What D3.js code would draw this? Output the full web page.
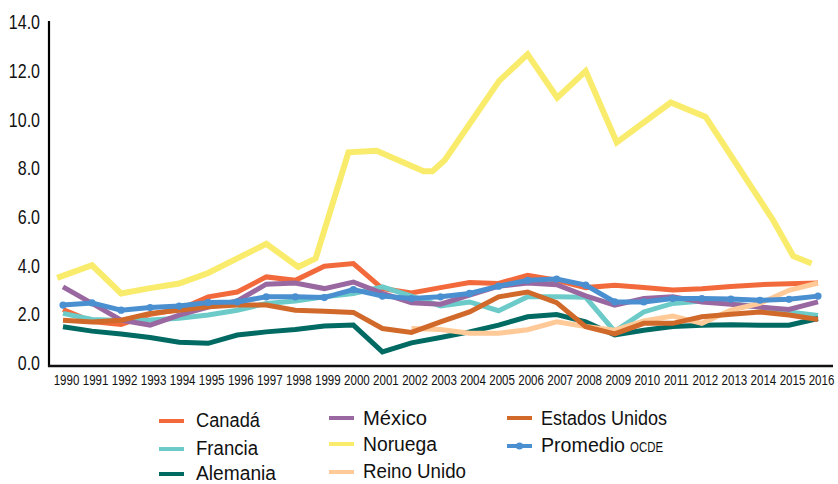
<!DOCTYPE html>
<html>
<head>
<meta charset="utf-8">
<script src="https://cdn.jsdelivr.net/npm/d3@7"></script>
<style>
  html, body { margin: 0; padding: 0; background: #fff; }
  svg { display: block; }
  .cond { font-family: "Liberation Sans", Arial, sans-serif; }
</style>
</head>
<body>
<svg id="chart" width="838" height="484"></svg>
<script>
// ---- data ----
const years = d3.range(1990, 2017);
const yTicks = [0, 2, 4, 6, 8, 10, 12, 14];

const canada   = [2.2,1.7,1.58,2.0,2.2,2.72,2.92,3.54,3.4,3.98,4.09,3.06,2.88,3.1,3.31,3.27,3.61,3.4,3.1,3.2,3.1,3.0,3.05,3.15,3.22,3.26,3.29];
const francia  = [2.04,1.79,1.75,1.77,1.84,1.97,2.17,2.45,2.55,2.72,2.86,3.13,2.75,2.35,2.51,2.15,2.72,2.72,2.7,1.3,2.1,2.45,2.55,2.45,2.3,2.1,1.95];
const alemania = [1.49,1.31,1.19,1.05,0.85,0.81,1.15,1.28,1.38,1.52,1.56,0.46,0.83,1.05,1.28,1.56,1.9,1.99,1.69,1.15,1.35,1.5,1.55,1.57,1.55,1.55,1.83];
const mexico   = [3.13,2.45,1.76,1.56,1.97,2.3,2.55,3.24,3.29,3.06,3.33,2.86,2.48,2.42,2.79,3.16,3.29,3.22,2.76,2.38,2.65,2.72,2.51,2.42,2.3,2.2,2.51];
const reinoUnido = [null,null,null,null,null,null,null,null,null,null,null,null,1.42,1.38,1.22,1.22,1.37,1.69,1.5,1.35,1.73,1.93,1.63,2.17,2.45,2.99,3.29];
const estadosUnidos = [1.76,1.69,1.76,2.04,2.17,2.31,2.38,2.38,2.17,2.13,2.08,1.42,1.26,1.69,2.1,2.72,2.92,2.48,1.49,1.2,1.63,1.63,1.9,2.0,2.1,1.97,1.79];
const promedioOCDE = [2.38,2.47,2.17,2.28,2.34,2.49,2.51,2.72,2.72,2.69,3.02,2.75,2.65,2.72,2.86,3.16,3.4,3.45,3.2,2.51,2.51,2.65,2.65,2.63,2.58,2.62,2.75];
// Noruega, read at the positions where its line bends
const noruegaX = [1989.8,1991.0,1992.0,1993.0,1994.0,1995.0,1996.0,1997.0,1998.1,1998.7,1999.83,2000.8,2002.42,2002.72,2003.15,2005.02,2006.0,2007.02,2008.0,2009.07,2010.93,2012.13,2014.46,2015.15,2015.78];
const noruegaY = [3.5,4.02,2.86,3.08,3.27,3.7,4.3,4.9,3.95,4.3,8.66,8.73,7.88,7.88,8.35,11.6,12.69,10.91,12.0,9.07,10.71,10.12,5.86,4.39,4.09];

const seriesNames  = ["Canadá","Francia","Alemania","México","Noruega","Reino Unido","Estados Unidos","Promedio OCDE"];
const seriesColors = ["#F26A3B","#6CCBC8","#006A63","#9A68A0","#F9EC6C","#FFC998","#D0692A","#4A8FD0"];

// ---- build ----
const zip = (xs, vs) => xs.map((x, i) => [x, vs[i]]);
const series = [
  { name: seriesNames[0], color: seriesColors[0], pts: zip(years, canada) },
  { name: seriesNames[1], color: seriesColors[1], pts: zip(years, francia) },
  { name: seriesNames[2], color: seriesColors[2], pts: zip(years, alemania) },
  { name: seriesNames[3], color: seriesColors[3], pts: zip(years, mexico) },
  { name: seriesNames[4], color: seriesColors[4], pts: zip(noruegaX, noruegaY), w: 6 },
  { name: seriesNames[5], color: seriesColors[5], pts: zip(years, reinoUnido) },
  { name: seriesNames[6], color: seriesColors[6], pts: zip(years, estadosUnidos) },
  { name: seriesNames[7], color: seriesColors[7], pts: zip(years, promedioOCDE), dots: true }
];

const svg = d3.select("#chart");
const x = d3.scaleLinear().domain([1990, 2016]).range([63, 818]);
const y = d3.scaleLinear().domain([0, 14]).range([363, 22.5]);
const axisY = y(0) + 3;

// Y axis labels (horizontally condensed)
const gy = svg.append("g").attr("class", "cond").attr("transform", "translate(49,0)")
  .call(d3.axisLeft(y).tickValues(yTicks).tickFormat(d3.format(".1f")).tickSize(0).tickPadding(0));
gy.select(".domain").remove();
gy.selectAll("text").attr("font-size", 20).attr("fill", "#111").attr("font-family", null)
  .attr("x", -9 / 0.8).attr("transform", "scale(0.8,1)");

// X axis labels (horizontally condensed)
const gx = svg.append("g").attr("class", "cond").attr("transform", `translate(0,${axisY})`)
  .call(d3.axisBottom(x).tickValues(years).tickFormat(d3.format("d")).tickSize(0).tickPadding(8));
gx.select(".domain").remove();
gx.selectAll("text").attr("font-size", 15).attr("fill", "#111").attr("font-family", null)
  .attr("x", 3 / 0.77).attr("transform", "scale(0.77,1)");

// Lines
const line = d3.line().defined(d => d[1] != null).x(d => x(d[0])).y(d => y(d[1]));
const gl = svg.append("g");
series.forEach(s => {
  gl.append("path").attr("d", line(s.pts)).attr("fill", "none")
    .attr("stroke", s.color).attr("stroke-width", s.w || 5)
    .attr("stroke-linejoin", "miter").attr("stroke-linecap", "butt");
  if (s.dots) {
    gl.selectAll(null).data(s.pts.filter(d => d[1] != null)).enter().append("circle")
      .attr("cx", d => x(d[0])).attr("cy", d => y(d[1])).attr("r", 3.6).attr("fill", s.color);
  }
});

// Axis lines
svg.append("line").attr("x1", 49).attr("x2", 49).attr("y1", 21).attr("y2", axisY + 1)
  .attr("stroke", "#000").attr("stroke-width", 2.2);
svg.append("line").attr("x1", 48).attr("x2", 833).attr("y1", axisY).attr("y2", axisY)
  .attr("stroke", "#111").attr("stroke-width", 2.5);

// Legend: [line x, line y, text x, text baseline, text width]
const legendPos = [
  [159, 421, 196, 427, 64], [159, 449, 196, 455, 62], [159, 474, 196, 479.5, 80],
  [329, 418, 363, 425, 64], [329, 444, 363, 451, 74], [329, 472, 363, 478, 103],
  [507, 418, 541, 425, 126], [507, 446, 541, 452, 84]
];
const gLeg = svg.append("g").attr("class", "cond");
series.forEach((s, i) => {
  const [lx, ly, tx, ty, tw] = legendPos[i];
  gLeg.append("line").attr("x1", lx).attr("x2", lx + 25).attr("y1", ly).attr("y2", ly)
    .attr("stroke", s.color).attr("stroke-width", 4);
  if (s.dots) gLeg.append("circle").attr("cx", lx + 12.5).attr("cy", ly).attr("r", 3.6).attr("fill", s.color);
  const t = gLeg.append("text").attr("x", tx).attr("y", ty)
    .attr("font-size", 20).attr("fill", "#111")
    .attr("textLength", tw).attr("lengthAdjust", "spacingAndGlyphs");
  if (s.name === "Promedio OCDE") {
    t.text("Promedio");
    gLeg.append("text").attr("x", tx + tw + 5).attr("y", ty).attr("font-size", 14).attr("fill", "#111")
      .attr("textLength", 33).attr("lengthAdjust", "spacingAndGlyphs").text("OCDE");
  } else {
    t.text(s.name);
  }
});
</script>
</body>
</html>
